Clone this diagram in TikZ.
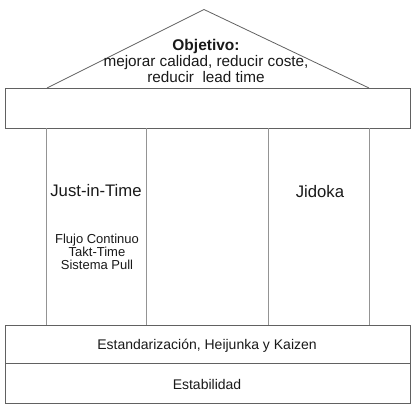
\documentclass[tikz,border=0pt]{standalone}
\usepackage{fontspec}
\setmainfont{Liberation Sans}
\usetikzlibrary{positioning}

\begin{document}
\begin{tikzpicture}[
  x=1bp, y=-1bp,
  frame/.style={draw=black!62, line width=0.8bp},
  pillar/.style={draw=black!42, line width=0.8bp},
  word/.style={anchor=base, inner sep=0pt, text=black!90},
  big/.style={word, font=\fontsize{16.7bp}{18bp}\selectfont},
  mid/.style={word, font=\fontsize{15.3bp}{16.5bp}\selectfont},
  small/.style={word, font=\fontsize{13bp}{14bp}\selectfont},
  floor/.style={word, font=\fontsize{14bp}{15bp}\selectfont}
]
\useasboundingbox (0,0) rectangle (415,408);

% roof and lintel
\draw[frame] (47,88) -- (204,9.5) -- (369,88);
\draw[frame] (5,88) rectangle (410,128);

% pillars
\foreach \px in {46.5,146.5,268.5,369.5}
  \draw[pillar] (\px,128) -- (\px,325);

% foundation
\draw[frame] (5,325) rectangle (410,363);
\draw[frame] (5,363) rectangle (410,403);

% goal under the roof
\node[mid, font=\fontsize{15.5bp}{16.5bp}\selectfont\bfseries] (goal) at (206,50.7) {Objetivo:};
\node[mid] (goalA) at (206,66.7) {mejorar calidad, reducir coste,};
\node[mid] (goalB) at (206,82.3) {reducir\ \ lead time};

% left pillar
\node[big] (jit) at (96,196) {Just-in-Time};
\node[small] (jitA) at (97,243.5) {Flujo Continuo};
\node[small] (jitB) at (97,256.3) {Takt-Time};
\node[small] (jitC) at (97,269) {Sistema Pull};

% right pillar
\node[big] (jidoka) at (320,197.7) {Jidoka};

% base layers
\node[floor] (std) at (207,349.3) {Estandarización, Heijunka y Kaizen};
\node[floor] (stab) at (207,389.3) {Estabilidad};
\end{tikzpicture}
\end{document}
